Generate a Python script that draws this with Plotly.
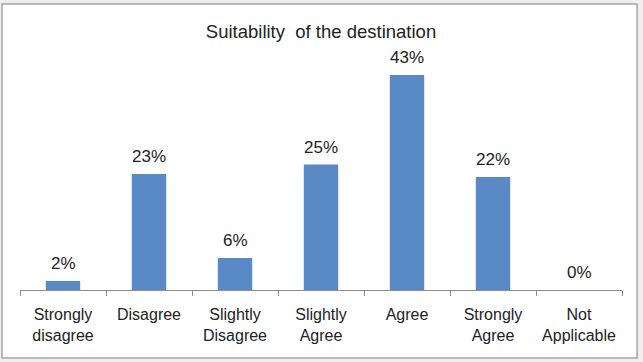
import plotly.graph_objects as go

categories = ["Strongly<br>disagree", "Disagree", "Slightly<br>Disagree", "Slightly<br>Agree",
              "Agree", "Strongly<br>Agree", "Not<br>Applicable"]
values = [1.8, 23.2, 6.4, 25.1, 43.0, 22.6, 0.0]
labels = ["2%", "23%", "6%", "25%", "43%", "22%", "0%"]

FONT = "Liberation Sans, Arial, sans-serif"
BAR = "#5A8AC6"

fig = go.Figure()
fig.add_trace(go.Bar(x=categories, y=values, marker=dict(color=BAR, line=dict(width=0)),
                     width=0.4, hoverinfo="skip"))

for c, v, t in zip(categories, values, labels):
    fig.add_annotation(x=c, y=v, text=t, showarrow=False, yanchor="bottom", yshift=6,
                       font=dict(family=FONT, size=17, color="#222222"))

# chart frame
fig.add_shape(type="rect", xref="paper", yref="paper", x0=-0.0299, x1=1.025, y0=-0.296, y1=1.243,
              line=dict(color="#a6a6a6", width=1.5), fillcolor="white", layer="below")

fig.update_layout(
    width=643, height=362,
    margin=dict(l=20, r=21, t=60, b=72),
    paper_bgcolor="#efefef", plot_bgcolor="white",
    showlegend=False, bargap=0.6,
    title=dict(text="Suitability  of the destination", x=0.5, xref="paper", xanchor="center",
               y=0.914, yref="container", yanchor="middle",
               font=dict(family=FONT, size=18.5, color="#222222")),
    font=dict(family=FONT, size=16, color="#222222"),
)
fig.update_xaxes(type="category", showline=True, linecolor="#8c8c8c", linewidth=1,
                 ticks="outside", tickson="boundaries", ticklen=5, tickcolor="#8c8c8c",
                 ticklabelstandoff=10,
                 tickfont=dict(family=FONT, size=16, color="#222222"), showgrid=False,
                 range=[-0.5, 6.5])
fig.update_yaxes(visible=False, range=[0, 46.0], showgrid=False, zeroline=False)

fig.write_html("out.html", config={"displayModeBar": False},
               post_script="document.body.style.margin='0';document.body.style.background='#efefef';")
